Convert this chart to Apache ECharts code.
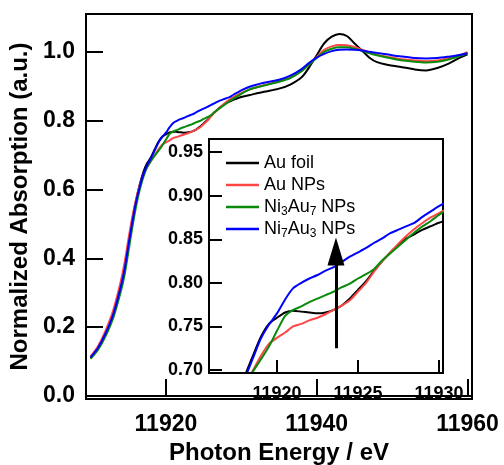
<!DOCTYPE html>
<html><head><meta charset="utf-8">
<script src="https://cdn.jsdelivr.net/npm/echarts@6/dist/echarts.min.js"></script>
<style>html,body{margin:0;padding:0;background:#fff}#c{width:504px;height:465px}</style>
</head><body><div id="c"></div>
<script>
const seriesNames = ['Au foil', 'Au NPs', 'Ni3Au7 NPs', 'Ni7Au3 NPs'];
const seriesColors = ['#000000', '#ff4646', '#0a8a0a', '#0000ff'];
const energy = [11910,11911,11912,11913,11914,11914.5,11915,11915.5,11916,11916.5,11917,11917.5,11918,11918.5,11919,11919.5,11920,11920.5,11921,11921.5,11922,11922.5,11923,11923.5,11924,11924.5,11925,11925.5,11926,11926.5,11927,11927.5,11928,11928.5,11929,11929.5,11930,11931,11933,11935,11936.5,11938,11939,11940,11941,11942,11943,11944,11945,11946,11947,11948,11949.5,11951,11953,11954.5,11956,11957.5,11959,11960];
const auFoil = [0.110,0.138,0.180,0.236,0.316,0.366,0.436,0.503,0.564,0.612,0.650,0.676,0.693,0.716,0.738,0.753,0.760,0.766,0.768,0.767,0.766,0.765,0.766,0.769,0.774,0.782,0.792,0.802,0.814,0.825,0.835,0.844,0.851,0.856,0.861,0.865,0.869,0.874,0.884,0.893,0.905,0.926,0.955,0.990,1.025,1.044,1.052,1.046,1.025,1.004,0.983,0.970,0.962,0.957,0.949,0.946,0.953,0.966,0.983,0.993];
const auNPs = [0.114,0.145,0.190,0.248,0.332,0.385,0.452,0.515,0.568,0.610,0.642,0.665,0.682,0.699,0.716,0.730,0.737,0.743,0.750,0.753,0.757,0.760,0.764,0.769,0.774,0.780,0.790,0.800,0.813,0.825,0.835,0.845,0.854,0.862,0.869,0.875,0.880,0.890,0.903,0.914,0.925,0.945,0.965,0.985,1.006,1.016,1.020,1.019,1.014,1.006,0.999,0.992,0.985,0.979,0.975,0.973,0.975,0.982,0.991,0.999];
const ni3au7 = [0.108,0.134,0.174,0.226,0.302,0.350,0.416,0.484,0.546,0.597,0.636,0.664,0.683,0.698,0.712,0.727,0.745,0.762,0.769,0.773,0.778,0.782,0.786,0.790,0.795,0.799,0.805,0.810,0.816,0.826,0.834,0.842,0.850,0.858,0.865,0.871,0.878,0.890,0.902,0.913,0.924,0.944,0.963,0.982,1.000,1.009,1.013,1.013,1.009,1.003,0.996,0.990,0.983,0.976,0.971,0.969,0.971,0.978,0.988,0.996];
const ni7au3 = [0.112,0.140,0.182,0.236,0.316,0.366,0.434,0.500,0.560,0.606,0.643,0.670,0.690,0.713,0.736,0.752,0.765,0.781,0.794,0.800,0.805,0.809,0.814,0.818,0.824,0.830,0.835,0.840,0.846,0.851,0.857,0.861,0.865,0.869,0.876,0.882,0.888,0.898,0.910,0.919,0.931,0.950,0.968,0.983,0.994,1.002,1.006,1.007,1.006,1.004,1.000,0.997,0.992,0.987,0.982,0.981,0.982,0.986,0.991,0.996];
const mainXTicks = [11920, 11940, 11960];
const mainYTicks = [0.0, 0.2, 0.4, 0.6, 0.8, 1.0];
const insetXTicks = [11920, 11925, 11930];
const insetYTicks = [0.70, 0.75, 0.80, 0.85, 0.90, 0.95];
const arrowEnergy = 11923.64;
const arrowFrom = 0.725, arrowTo = 0.836;

const FONT = '"Liberation Sans", Arial, sans-serif';
const allValues = [auFoil, auNPs, ni3au7, ni7au3];
const pairs = v => energy.map((e, i) => [e, v[i]]);

const legendLabels = {
  'Au foil': 'Au foil',
  'Au NPs': 'Au NPs',
  'Ni3Au7 NPs': 'Ni{s|3}Au{s|7} NPs',
  'Ni7Au3 NPs': 'Ni{s|7}Au{s|3} NPs'
};

const series = [];
seriesNames.forEach((n, i) => {
  series.push({
    name: n, type: 'line', xAxisIndex: 0, yAxisIndex: 0,
    data: pairs(allValues[i]), showSymbol: false, symbol: 'none', smooth: 0.3,
    lineStyle: { color: seriesColors[i], width: 2 }, itemStyle: { color: seriesColors[i] },
    z: 2, silent: true, animation: false
  });
});
seriesNames.forEach((n, i) => {
  const s = {
    name: n, type: 'line', xAxisIndex: 1, yAxisIndex: 1,
    data: pairs(allValues[i]), showSymbol: false, symbol: 'none', smooth: 0.2,
    lineStyle: { color: seriesColors[i], width: 2 }, itemStyle: { color: seriesColors[i] },
    z: 12, silent: true, animation: false, clip: true
  };
  if (i === seriesNames.length - 1) {
    s.markLine = {
      silent: true, animation: false, z: 16,
      symbol: ['none', 'triangle'], symbolSize: [17, 28],
      label: { show: false },
      lineStyle: { color: '#000', width: 3, type: 'solid' },
      itemStyle: { color: '#000' },
      emphasis: { disabled: true },
      data: [[{ coord: [arrowEnergy, arrowFrom] }, { coord: [arrowEnergy, arrowTo] }]]
    };
  }
  series.push(s);
});

const chart = echarts.init(document.getElementById('c'), null, { renderer: 'canvas' });
chart.setOption({
  animation: false,
  backgroundColor: '#fff',
  grid: [
    { left: 86, top: 14, width: 386, height: 385, show: true, borderColor: '#000', borderWidth: 2, backgroundColor: 'transparent', z: 0, outerBoundsMode: 'none', containLabel: false },
    { left: 209, top: 139, width: 234, height: 234, show: true, borderColor: '#000', borderWidth: 2, backgroundColor: '#fff', z: 10, outerBoundsMode: 'none', containLabel: false }
  ],
  xAxis: [
    { type: 'value', gridIndex: 0, min: 11909.4, max: 11960.6,
      name: 'Photon Energy / eV', nameLocation: 'middle', nameGap: 40,
      nameTextStyle: { fontFamily: FONT, fontWeight: 'bold', fontSize: 24, color: '#000' },
      axisLine: { show: true, lineStyle: { color: '#000', width: 2 } },
      axisTick: { show: true, inside: true, length: 17, customValues: mainXTicks, lineStyle: { color: '#000', width: 2 } },
      axisLabel: { show: true, customValues: mainXTicks, margin: 14, fontFamily: FONT, fontWeight: 'bold', fontSize: 23, color: '#000', formatter: v => String(v) },
      splitLine: { show: false }, z: 20 },
    { type: 'value', gridIndex: 1, min: 11915.8, max: 11930.25,
      axisLine: { show: true, lineStyle: { color: '#000', width: 2 } },
      axisTick: { show: true, inside: true, length: 13, customValues: insetXTicks, lineStyle: { color: '#000', width: 2 } },
      axisLabel: { show: true, customValues: insetXTicks, margin: 12, fontFamily: FONT, fontWeight: 'bold', fontSize: 18, color: '#000', formatter: v => String(v) },
      splitLine: { show: false }, z: 14 }
  ],
  yAxis: [
    { type: 'value', gridIndex: 0, min: -0.009, max: 1.11,
      name: 'Normalized Absorption (a.u.)', nameLocation: 'middle', nameGap: 50, nameRotate: 90,
      nameTextStyle: { fontFamily: FONT, fontWeight: 'bold', fontSize: 24, color: '#000' },
      axisLine: { show: true, lineStyle: { color: '#000', width: 2 } },
      axisTick: { show: true, inside: true, length: 17, customValues: mainYTicks, lineStyle: { color: '#000', width: 2 } },
      axisLabel: { show: true, customValues: mainYTicks, margin: 11, fontFamily: FONT, fontWeight: 'bold', fontSize: 23, color: '#000', formatter: v => v.toFixed(1) },
      splitLine: { show: false }, z: 20 },
    { type: 'value', gridIndex: 1, min: 0.6966, max: 0.965,
      axisLine: { show: true, lineStyle: { color: '#000', width: 2 } },
      axisTick: { show: true, inside: true, length: 13, customValues: insetYTicks, lineStyle: { color: '#000', width: 2 } },
      axisLabel: { show: true, customValues: insetYTicks, margin: 6, fontFamily: FONT, fontWeight: 'bold', fontSize: 18, color: '#000', formatter: v => v.toFixed(2) },
      splitLine: { show: false }, z: 14 }
  ],
  legend: {
    show: true, orient: 'vertical', left: 221, top: 147, itemGap: 0,
    itemWidth: 33, itemHeight: 2.5, icon: 'rect', z: 20, selectedMode: false,
    data: seriesNames,
    formatter: n => legendLabels[n],
    textStyle: { fontFamily: FONT, fontSize: 18, color: '#000', lineHeight: 22,
      rich: { s: { fontFamily: FONT, fontSize: 12, color: '#000', lineHeight: 22, verticalAlign: 'bottom' } } }
  },
  series: series
});
</script>
</body></html>
